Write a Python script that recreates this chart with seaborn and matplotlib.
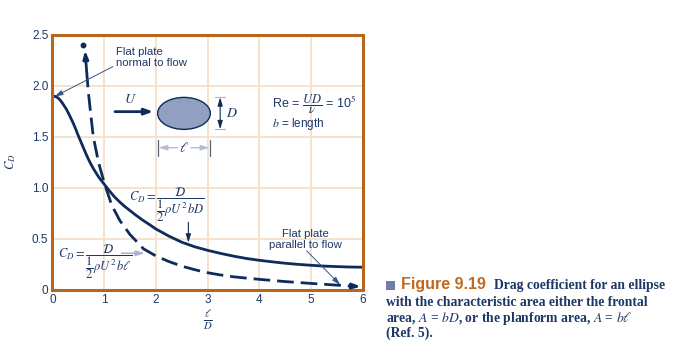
import numpy as np
import pandas as pd
import matplotlib
matplotlib.use("Agg")
import matplotlib.pyplot as plt
import seaborn as sns
from matplotlib.patches import Ellipse, Rectangle

# drag coefficient of an ellipse vs l/D
ratio_frontal = [0.0, 0.05, 0.1, 0.15, 0.2, 0.27, 0.34, 0.4, 0.45, 0.5, 0.55, 0.6,
                 0.65, 0.7, 0.75, 0.8, 0.9, 1.0, 1.1, 1.2, 1.3, 1.4, 1.5, 1.6,
                 1.75, 1.9, 2.0, 2.25, 2.5, 2.75, 3.0, 3.25, 3.5, 3.75, 4.0, 4.25,
                 4.5, 4.75, 5.0, 5.25, 5.5, 5.75, 6.0]
cd_frontal = [1.90, 1.897, 1.885, 1.86, 1.825, 1.77, 1.70, 1.635, 1.575, 1.51, 1.45, 1.39,
              1.33, 1.275, 1.225, 1.18, 1.10, 1.035, 0.97, 0.91, 0.86, 0.815, 0.775, 0.735,
              0.68, 0.63, 0.595, 0.525, 0.465, 0.42, 0.385, 0.355, 0.328, 0.305, 0.287, 0.272,
              0.258, 0.247, 0.238, 0.23, 0.225, 0.221, 0.219]

ratio_planform = [0.66, 0.69, 0.74, 0.79, 0.89, 1.0, 1.145, 1.3, 1.5, 1.76, 2.0, 2.25,
                  2.5, 2.75, 3.0, 3.25, 3.5, 3.75, 4.0, 4.5, 5.0, 5.5, 5.8]
cd_planform = [2.15, 1.96, 1.72, 1.50, 1.25, 1.05, 0.83, 0.68, 0.54, 0.40, 0.33, 0.275,
               0.23, 0.195, 0.165, 0.143, 0.125, 0.112, 0.10, 0.078, 0.06, 0.043, 0.033]

x_ticks = [0, 1, 2, 3, 4, 5, 6]
y_ticks = [0, 0.5, 1.0, 1.5, 2.0, 2.5]
y_tick_labels = ["0", "0.5", "1.0", "1.5", "2.0", "2.5"]

navy = "#0e2b5c"
text_navy = "#1d3766"
spine_col = "#b8651e"
grid_col = "#f5e0ca"

sns.set_style("white")
plt.rcParams["font.family"] = ["Liberation Sans", "DejaVu Sans"]
plt.rcParams["mathtext.fontset"] = "stix"

fig = plt.figure(figsize=(6.76, 3.58), dpi=100)
ax = fig.add_axes([52.5 / 676, 1 - 289.5 / 358, 310 / 676, 254.5 / 358])

front = pd.DataFrame({"ratio": ratio_frontal, "cd": cd_frontal})
plan = pd.DataFrame({"ratio": ratio_planform, "cd": cd_planform})

sns.lineplot(data=front, x="ratio", y="cd", ax=ax, color=navy, lw=2.0)
sns.lineplot(data=plan, x="ratio", y="cd", ax=ax, color=navy, lw=2.0,
             linestyle=(0, (6, 2.5)))

# arrow ends of the dashed curve
ax.annotate("", xy=(0.63, 2.35), xytext=(ratio_planform[0], cd_planform[0]),
            arrowprops=dict(arrowstyle="-|>,head_length=0.45,head_width=0.15",
                            color=navy, lw=2.0, shrinkA=0, shrinkB=0))
ax.plot([0.585], [2.40], "o", color=navy, ms=3.2)
ax.annotate("", xy=(5.97, 0.028), xytext=(ratio_planform[-1], cd_planform[-1]),
            arrowprops=dict(arrowstyle="-|>,head_length=0.45,head_width=0.15",
                            color=navy, lw=2.0, shrinkA=0, shrinkB=0))

ax.set_xlim(0, 6)
ax.set_ylim(0, 2.5)
ax.set_xticks(x_ticks)
ax.set_yticks(y_ticks)
ax.set_yticklabels(y_tick_labels)
ax.tick_params(length=0, labelsize=8.5, labelcolor=text_navy, pad=3)
ax.grid(True, color=grid_col, lw=1.3)
ax.set_axisbelow(True)
for s in ax.spines.values():
    s.set_color(spine_col)
    s.set_linewidth(2.2)
    s.set_visible(True)

ax.set_xlabel(r"$\frac{\ell}{D}$", fontsize=11, color=text_navy, labelpad=2)
ax.set_ylabel(r"$C_D$", fontsize=9, color=text_navy, labelpad=10)

# flat plate notes
ax.text(1.22, 2.38, "Flat plate\nnormal to flow", fontsize=8.2, color=text_navy,
        va="top", ha="left", linespacing=1.1)
ax.annotate("", xy=(0.04, 1.895), xytext=(1.17, 2.19),
            arrowprops=dict(arrowstyle="-|>,head_length=0.5,head_width=0.15",
                            color="#3a5585", lw=0.7, shrinkA=0, shrinkB=0))
ax.text(4.89, 0.49, "Flat plate\nparallel to flow", fontsize=8.2, color=text_navy,
        va="center", ha="center", linespacing=1.1)
ax.annotate("", xy=(5.57, 0.045), xytext=(4.92, 0.38),
            arrowprops=dict(arrowstyle="-|>,head_length=0.5,head_width=0.15",
                            color="#3a5585", lw=0.7, shrinkA=0, shrinkB=0))

# ellipse sketch with flow arrow and dimensions
ax.annotate("", xy=(1.95, 1.747), xytext=(1.21, 1.747),
            arrowprops=dict(arrowstyle="-|>,head_length=0.5,head_width=0.18",
                            color=navy, lw=2.0, shrinkA=0, shrinkB=0))
ax.text(1.5, 1.80, r"$U$", fontsize=10, color=text_navy, ha="center", va="bottom")
ax.add_patch(Ellipse((2.545, 1.73), 1.02, 0.314, facecolor="#919fc0",
                     edgecolor=navy, lw=1.0))
ax.plot([3.15, 3.34], [1.888, 1.888], color="#a9b3c6", lw=0.8)
ax.plot([3.15, 3.34], [1.574, 1.574], color="#a9b3c6", lw=0.8)
ax.annotate("", xy=(3.245, 1.574), xytext=(3.245, 1.888),
            arrowprops=dict(arrowstyle="<|-|>,head_length=0.5,head_width=0.15",
                            color=navy, lw=0.8, shrinkA=0, shrinkB=0))
ax.text(3.35, 1.73, r"$D$", fontsize=10, color=text_navy, ha="left", va="center")
ax.plot([2.036, 2.036], [1.31, 1.47], color="#55657f", lw=0.9)
ax.plot([3.054, 3.054], [1.31, 1.47], color="#55657f", lw=0.9)
ax.annotate("", xy=(2.05, 1.393), xytext=(2.42, 1.393),
            arrowprops=dict(arrowstyle="-|>,head_length=0.5,head_width=0.15",
                            color="#b3bfd0", lw=1.0, shrinkA=0, shrinkB=0))
ax.annotate("", xy=(3.04, 1.393), xytext=(2.68, 1.393),
            arrowprops=dict(arrowstyle="-|>,head_length=0.5,head_width=0.15",
                            color="#b3bfd0", lw=1.0, shrinkA=0, shrinkB=0))
ax.text(2.545, 1.393, r"$\ell$", fontsize=10, color=text_navy, ha="center", va="center")

ax.text(4.24, 1.82, r"Re = $\dfrac{UD}{\nu}$ = 10$^5$", fontsize=9, color=text_navy,
        ha="left", va="center")
ax.text(4.24, 1.63, r"$b$ = length", fontsize=8.5, color=text_navy,
        ha="left", va="center")

# formula labels
ax.text(1.48, 0.83, r"$C_D = \dfrac{\mathcal{D}}{\dfrac{1}{2}\rho U^2\, bD}$",
        fontsize=9, color=text_navy, ha="left", va="center")
ax.annotate("", xy=(2.63, 0.46), xytext=(2.63, 0.66),
            arrowprops=dict(arrowstyle="-|>,head_length=0.5,head_width=0.15",
                            color=navy, lw=0.8, shrinkA=0, shrinkB=0))
ax.text(0.1, 0.27, r"$C_D = \dfrac{\mathcal{D}}{\dfrac{1}{2}\rho U^2\, b\ell}$",
        fontsize=9, color=text_navy, ha="left", va="center")
ax.annotate("", xy=(1.79, 0.356), xytext=(1.34, 0.356),
            arrowprops=dict(arrowstyle="-|>,head_length=0.5,head_width=0.15",
                            color="#a9b6cb", lw=1.2, shrinkA=0, shrinkB=0))

# caption block
fig.patches.append(Rectangle((386.5 / 676, 1 - 289.5 / 358), 8.5 / 676, 8.5 / 358,
                             transform=fig.transFigure, facecolor="#6e7ea6",
                             edgecolor="none"))
fig.text(401 / 676, 1 - 285 / 358, "Figure 9.19", fontsize=11.5, fontweight="bold",
         color="#c0691f", ha="left", va="center")
cap = dict(fontsize=9.8, fontweight="bold", color=text_navy,
           family=["Liberation Serif", "DejaVu Serif"], ha="left", va="center")
fig.text(494 / 676, 1 - 285 / 358, "Drag coefficient for an ellipse", **cap)
fig.text(386.5 / 676, 1 - 302 / 358, "with the characteristic area either the frontal", **cap)
fig.text(386.5 / 676, 1 - 318.5 / 358, r"area, $A$ = $bD$, or the planform area, $A$ = $b\ell$", **cap)
fig.text(386.5 / 676, 1 - 333 / 358, "(Ref. 5).", **cap)

fig.savefig("out.png", dpi=100)
